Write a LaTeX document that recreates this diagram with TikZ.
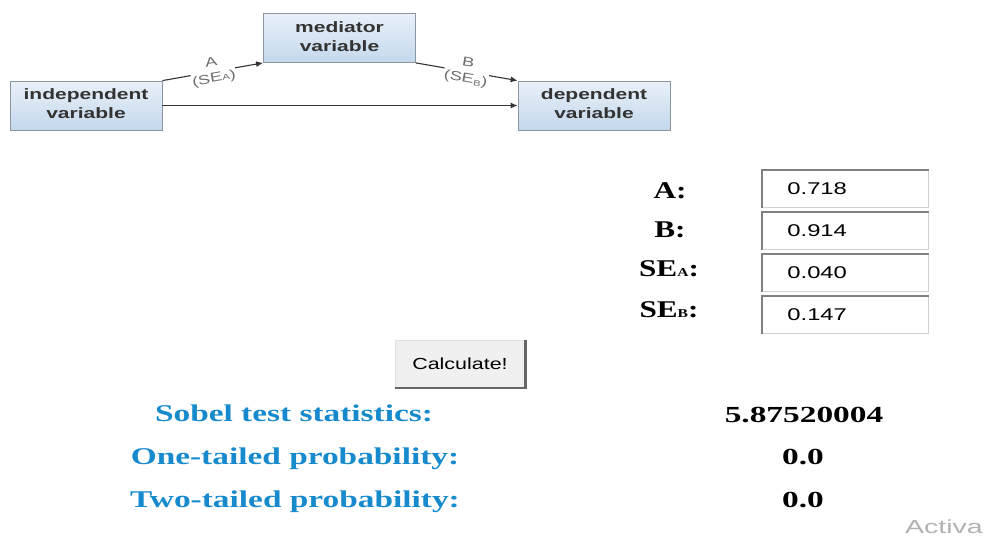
\documentclass[tikz,border=0pt]{standalone}
\usepackage{fontspec}
\setmainfont{Liberation Serif}
\newfontfamily\arialf{Liberation Sans}
\usetikzlibrary{arrows.meta}
\definecolor{sobelblue}{RGB}{22,138,204}
\definecolor{boxtop}{RGB}{232,240,249}
\definecolor{boxbot}{RGB}{196,216,236}
\definecolor{boxline}{RGB}{140,150,160}
\definecolor{labgray}{RGB}{110,110,110}
\newcommand\hs[2][1.4]{\scalebox{#1}[1]{#2}}
\begin{document}
\begin{tikzpicture}[x=1pt,y=-1pt,
  varbox/.style={draw=boxline, line width=0.8pt, top color=boxtop, bottom color=boxbot,
    minimum width=152pt, minimum height=49pt, inner sep=0pt,
    font=\arialf\bfseries\fontsize{15}{19}\selectfont, text=black!80, align=center},
  conn/.style={draw=black!80, line width=1.1pt, -{Latex[length=7pt,width=6pt]}},
  pathlab/.style={midway, sloped, fill=white, inner sep=0.5pt,
    font=\arialf\fontsize{13}{13}\selectfont, text=labgray, align=center},
  inbox/.style={draw=black!18, line width=0.8pt, fill=white, minimum width=166pt, minimum height=37pt,
    text width=116pt, inner xsep=25pt, align=left, anchor=north west,
    font=\arialf\fontsize{17}{17}\selectfont},
  inshade/.style={draw=black!50, line width=2pt},
  parlab/.style={anchor=base, font=\bfseries\fontsize{24}{24}\selectfont},
  reslab/.style={anchor=base, text=sobelblue, font=\bfseries\fontsize{24}{24}\selectfont},
  resval/.style={anchor=base, font=\bfseries\fontsize{23}{23}\selectfont},
]
\useasboundingbox (0,0) rectangle (984,538);
\fill[white] (0,0) rectangle (984,538);

% path diagram
\node[varbox] (iv) at (86,105.5) {\hs{\begin{tabular}{@{}c@{}}independent\\variable\end{tabular}}};
\node[varbox] (med) at (339.5,38) {\hs{\begin{tabular}{@{}c@{}}mediator\\variable\end{tabular}}};
\node[varbox] (dv) at (594,105.5) {\hs{\begin{tabular}{@{}c@{}}dependent\\variable\end{tabular}}};

\draw[conn] (iv.east) -- (dv.west);
\draw[conn] (iv.north east) -- node[pathlab] {\hs{\begin{tabular}{@{}c@{}}A\\[3pt](SE{\fontsize{8}{8}\selectfont A})\end{tabular}}} (med.south west);
\draw[conn] (med.south east) -- node[pathlab] {\hs{\begin{tabular}{@{}c@{}}B\\[3pt](SE\raisebox{-2pt}{\fontsize{8}{8}\selectfont B})\end{tabular}}} (dv.north west);

% parameter labels
\node[parlab] (la) at (670,198) {\hs[1.3]{A:}};
\node[parlab] (lb) at (670,237) {\hs[1.3]{B:}};
\node[parlab] (lsa) at (669,276) {\hs[1.3]{SE{\fontsize{12}{12}\selectfont A}:}};
\node[parlab] (lsb) at (669,317) {\hs[1.3]{SE{\fontsize{12}{12}\selectfont B}:}};

% input boxes
\node[inbox] (in1) at (762,170) {\hs{0.718}};
\node[inbox] (in2) at (762,212) {\hs{0.914}};
\node[inbox] (in3) at (762,254) {\hs{0.040}};
\node[inbox] (in4) at (762,296) {\hs{0.147}};
\foreach \n in {in1,in2,in3,in4}{
  \draw[inshade] (\n.south west) -- (\n.north west) -- (\n.north east);
}

% button
\node[draw=black!12, line width=0.8pt, fill=black!6, minimum width=130pt, minimum height=47pt,
  font=\arialf\fontsize{16}{16}\selectfont] (calc) at (460,364) {\hs[1.34]{Calculate!}};
\draw[draw=black!60, line width=2.2pt] (calc.south west) -- (calc.south east) -- (calc.north east);

% results
\node[reslab] (r1) at (294,421) {\hs[1.39]{Sobel test statistics:}};
\node[reslab] (r2) at (295,464) {\hs[1.39]{One-tailed probability:}};
\node[reslab] (r3) at (295,507) {\hs[1.39]{Two-tailed probability:}};
\node[resval] (v1) at (804,422) {\hs[1.45]{5.87520004}};
\node[resval] (v2) at (803,464) {\hs[1.45]{0.0}};
\node[resval] (v3) at (803,507) {\hs[1.45]{0.0}};

% watermark
\node[anchor=base west, inner sep=0pt, text=black!30, font=\arialf\fontsize{19}{19}\selectfont] (wm) at (905,533) {\hs[1.5]{Activa}};
\end{tikzpicture}
\end{document}
